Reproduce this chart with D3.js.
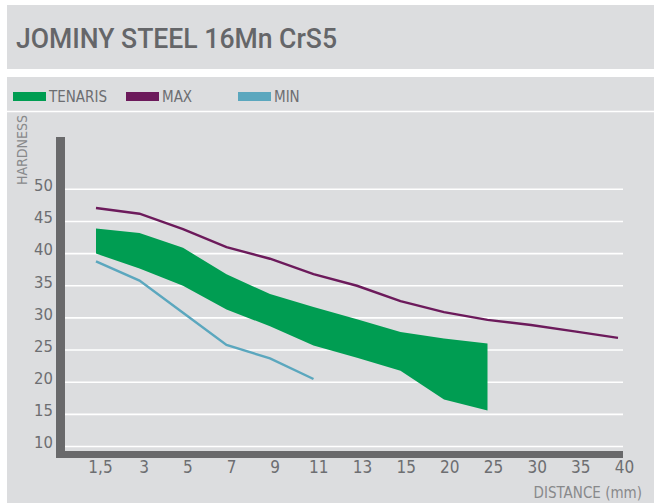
<!DOCTYPE html>
<html>
<head>
<meta charset="utf-8">
<script src="https://cdn.jsdelivr.net/npm/d3@7"></script>
<style>
  body { margin: 0; background: #fff; }
  svg text { font-family: "Liberation Sans Narrow", "DejaVu Sans Condensed", "Roboto Condensed", sans-serif; }
</style>
</head>
<body>
<div id="chart"></div>
<script>
// Jominy curve, 16Mn CrS5
var categories = ["1,5", "3", "5", "7", "9", "11", "13", "15", "20", "25", "30", "35", "40"];
var maxValues = [47.1, 46.2, 43.8, 41.0, 39.2, 36.8, 35.0, 32.6, 30.9, 29.7, 28.9, 27.9, 26.9];
var minValues = [38.8, 35.8, 30.8, 25.8, 23.7, 20.5];
var tenarisHigh = [43.9, 43.2, 40.9, 36.8, 33.7, 31.7, 29.8, 27.8, 26.8, 26.0];
var tenarisLow = [40.0, 37.7, 35.0, 31.3, 28.7, 25.7, 23.8, 21.8, 17.3, 15.6];
var yTicks = [10, 15, 20, 25, 30, 35, 40, 45, 50];

var legendItems = [
  { label: "TENARIS", color: "#009d52", x: 13 },
  { label: "MAX", color: "#6c1a5b", x: 126 },
  { label: "MIN", color: "#5ba7be", x: 238 }
];

var svgWidth = 654;
var svgHeight = 503;
var textGray = "#6d6e71";
var lightGray = "#88898b";
var barGray = "#69696b";
var panelGray = "#dcdddf";

var svg = d3.select("#chart")
  .append("svg")
  .attr("width", svgWidth)
  .attr("height", svgHeight);

// title panel
svg.append("rect")
  .attr("x", 7).attr("y", 5)
  .attr("width", svgWidth - 7).attr("height", 64)
  .attr("fill", panelGray);

svg.append("text")
  .attr("x", 16)
  .attr("y", 47.5)
  .attr("font-size", 27.5)
  .attr("font-weight", 500)
  .attr("textLength", 321)
  .attr("lengthAdjust", "spacingAndGlyphs")
  .attr("fill", "#656669")
  .style("font-family", "Roboto, \"DejaVu Sans Condensed\", sans-serif")
  .text("JOMINY STEEL 16Mn CrS5");

// chart panel
svg.append("rect")
  .attr("x", 7).attr("y", 77)
  .attr("width", svgWidth - 7).attr("height", svgHeight - 77)
  .attr("fill", panelGray);

// legend
var legend = svg.append("g");
legendItems.forEach(function(d) {
  legend.append("rect")
    .attr("x", d.x).attr("y", 92)
    .attr("width", 33).attr("height", 9)
    .attr("fill", d.color);
  legend.append("text")
    .attr("x", d.x + 36)
    .attr("y", 101.5)
    .attr("font-size", 15)
    .attr("fill", textGray)
    .text(d.label);
});

svg.append("line")
  .attr("x1", 7).attr("x2", svgWidth)
  .attr("y1", 111.5).attr("y2", 111.5)
  .attr("stroke", "#fff")
  .attr("stroke-width", 1.5);

// scales
var x = d3.scalePoint().domain(categories).range([96, 618]);
var xLabel = d3.scalePoint().domain(categories).range([100, 624]);
var y = d3.scaleLinear().domain([10, 50]).range([446.5, 189.3]);

// grid lines
svg.append("g")
  .selectAll("line")
  .data(yTicks)
  .enter()
  .append("line")
  .attr("x1", 57).attr("x2", 623)
  .attr("y1", d => y(d)).attr("y2", d => y(d))
  .attr("stroke", "#fff")
  .attr("stroke-width", 1.6);

// axis bars
svg.append("rect")
  .attr("x", 56).attr("y", 137)
  .attr("width", 9).attr("height", 457 - 137)
  .attr("fill", barGray);
svg.append("rect")
  .attr("x", 56).attr("y", 451)
  .attr("width", 623 - 56).attr("height", 7)
  .attr("fill", barGray);

// y labels
var leftAxis = d3.axisLeft(y).tickValues(yTicks).tickSize(0).tickPadding(0);
var yAxis = svg.append("g")
  .attr("transform", "translate(53, 0)")
  .call(leftAxis);
yAxis.select(".domain").remove();
yAxis.selectAll("text")
  .attr("font-size", 16.5)
  .attr("fill", textGray)
  .attr("dy", "0.08em")
  .style("font-family", "\"Liberation Sans Narrow\", \"DejaVu Sans Condensed\", sans-serif");

svg.append("text")
  .attr("transform", "translate(26.5, 185) rotate(-90)")
  .attr("font-size", 14)
  .attr("textLength", 70)
  .attr("lengthAdjust", "spacingAndGlyphs")
  .attr("fill", lightGray)
  .text("HARDNESS");

// x labels
var bottomAxis = d3.axisBottom(xLabel).tickSize(0).tickPadding(0);
var xAxis = svg.append("g")
  .attr("transform", "translate(0, 461)")
  .call(bottomAxis);
xAxis.select(".domain").remove();
xAxis.selectAll("text")
  .attr("font-size", 17)
  .attr("fill", textGray)
  .attr("dy", "0.72em")
  .style("font-family", "\"Liberation Sans Narrow\", \"DejaVu Sans Condensed\", sans-serif");

svg.append("text")
  .attr("x", 642)
  .attr("y", 497.5)
  .attr("text-anchor", "end")
  .attr("font-size", 15)
  .attr("fill", lightGray)
  .text("DISTANCE (mm)");

// tenaris band
var area = d3.area()
  .x((d, i) => x(categories[i]))
  .y0((d, i) => y(tenarisLow[i]))
  .y1(d => y(d));

svg.append("path")
  .datum(tenarisHigh)
  .attr("d", area)
  .attr("fill", legendItems[0].color);

// max / min lines
var line = d3.line()
  .x((d, i) => x(categories[i]))
  .y(d => y(d));

svg.append("path")
  .datum(maxValues)
  .attr("d", line)
  .attr("fill", "none")
  .attr("stroke", legendItems[1].color)
  .attr("stroke-width", 2.4);

svg.append("path")
  .datum(minValues)
  .attr("d", line)
  .attr("fill", "none")
  .attr("stroke", legendItems[2].color)
  .attr("stroke-width", 2.4);
</script>
</body>
</html>
